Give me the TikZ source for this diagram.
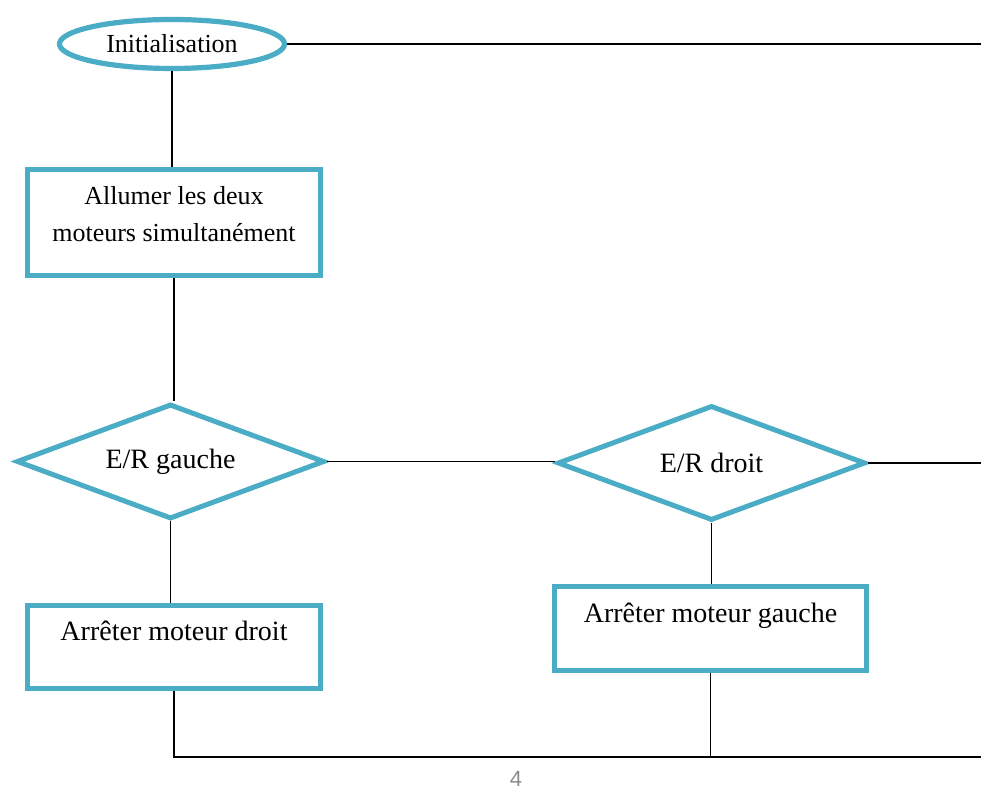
\documentclass[tikz,border=0pt]{standalone}
\usepackage{fontspec}
\setmainfont{Liberation Serif}
\newfontfamily\pagefont{Liberation Sans}
\usetikzlibrary{shapes.geometric}
\definecolor{cadre}{RGB}{75,172,198}
\definecolor{numero}{RGB}{140,140,140}

\begin{document}
\begin{tikzpicture}[x=0.5pt,y=-0.5pt,line width=0.65pt,
	etape/.style={draw=cadre,line width=2.5pt,rectangle,align=center,font=\fontsize{14}{18.5}\selectfont},
	test/.style={draw=cadre,line width=2.5pt,diamond,aspect=2.8,minimum width=154pt,minimum height=57.5pt,inner sep=0pt,font=\fontsize{14}{18.5}\selectfont}]
	\useasboundingbox (0,0) rectangle (981,795);
	\node (init) [draw=cadre,line width=2.6pt,ellipse,minimum width=112.5pt,minimum height=24.5pt,inner sep=0pt,font=\fontsize{13}{16}\selectfont] at (172,44) {Initialisation};
	\node (allumer) [etape,minimum width=146.5pt,minimum height=53pt,font=\fontsize{13}{18.5}\selectfont,text depth=9pt] at (174,222.5) {Allumer les deux\\moteurs simultanément};
	\node (gauche) [test] at (170.5,461.5) {E/R gauche};
	\node (droit) [test] at (711.5,463) {E/R droit};
	\node (arretd) [etape,minimum width=146.5pt,minimum height=41.75pt,text height=9pt,text depth=15pt] at (174,647) {Arrêter moteur droit};
	\node (arretg) [etape,minimum width=156pt,minimum height=42pt,text height=9pt,text depth=15pt] at (710.5,628.5) {Arrêter moteur gauche};
	\node (page) [text=numero,font=\pagefont\fontsize{11}{13}\selectfont] at (516,779) {4};
	\coordinate (bordA) at (981,44);
	\coordinate (bordB) at (981,462);
	\coordinate (bordC) at (981,757);
	% liaisons
	\draw (init.east) -- (init.east -| bordA);
	\draw (init.south) -- (init.south |- allumer.north);
	\draw (allumer.south) -- (allumer.south |- gauche.north);
	\draw (gauche.east) -- (gauche.east -| droit.west);
	\draw (droit.east) -- (droit.east -| bordB);
	\draw (gauche.south) -- (gauche.south |- arretd.north);
	\draw (droit.south) -- (droit.south |- arretg.north);
	\draw (arretd.south) |- (bordC);
	\draw (arretg.south) -- (arretg.south |- bordC);
\end{tikzpicture}
\end{document}
